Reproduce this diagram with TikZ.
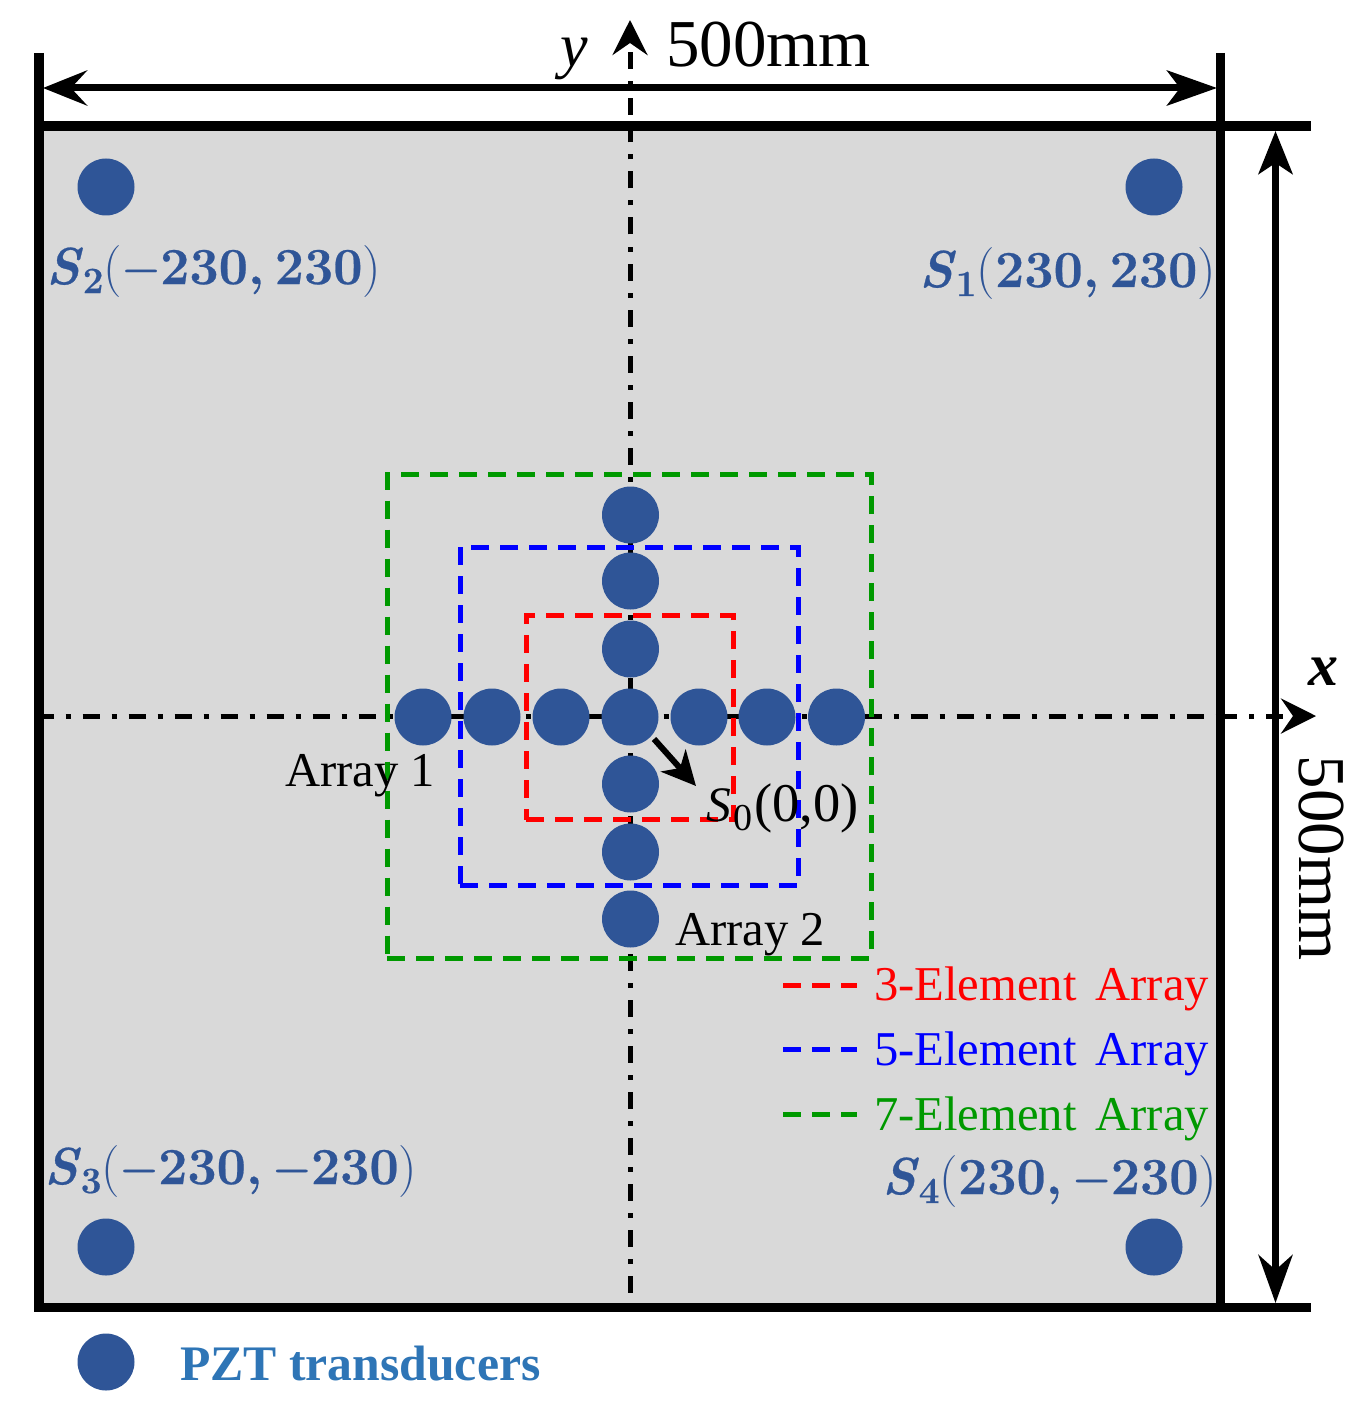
\documentclass[tikz,border=0pt]{standalone}
\usepackage{fontspec}
\setmainfont{Liberation Serif}
\newfontfamily\lmf[BoldFeatures={FakeBold=0.5},BoldItalicFeatures={FakeBold=0.5}]{Latin Modern Roman}
\usetikzlibrary{arrows.meta}
\definecolor{pztblue}{HTML}{2F5597}
\definecolor{legblue}{HTML}{2E75B6}
\definecolor{plate}{HTML}{D9D9D9}
\definecolor{arrgreen}{HTML}{009900}
\newcommand{\sens}[2]{{\lmf\bfseries\textit{S}\raisebox{-9pt}{\fontsize{37}{37}\selectfont #1}\mdseries(\bfseries #2\mdseries)}}
\newcommand{\cm}{,\hspace{10.5pt}}
\newcommand{\mn}{\hspace{0.7pt}\raisebox{2.5pt}{\fontsize{42}{42}\selectfont −}\hspace{0.7pt}}
\tikzset{
  x=1pt,y=-1pt,
  pzt/.style={circle,fill=pztblue,minimum size=57pt,inner sep=0pt},
  borderv/.style={line width=9.5pt,black},
  borderh/.style={line width=9.5pt,black},
  dimline/.style={line width=7pt,black},
  axisline/.style={line width=5pt,black,dash pattern=on 17pt off 12pt on 5pt off 12pt},
  axhead/.style={-{Stealth[length=35pt,width=35pt,inset=12pt]}},
  arrbox/.style={line width=5pt,dash pattern=on 18pt off 11pt},
  txt/.style={inner sep=0pt,anchor=base west,font=\fontsize{48.6}{50}\selectfont},
  legtxt/.style={inner sep=0pt,anchor=base west,font=\fontsize{48.6}{50}\selectfont},
  senslbl/.style={inner sep=0pt,anchor=base west,text=pztblue,font=\fontsize{52}{52}\selectfont},
  dimtxt/.style={inner sep=0pt,font=\fontsize{67}{67}\selectfont},
}
\begin{document}
\begin{tikzpicture}
\useasboundingbox (0,0) rectangle (1368,1415);
\fill[white] (0,0) rectangle (1368,1415);
\fill[plate] (39,127) rectangle (1221,1306);
% frame
\coordinate (tl) at (39,53); \coordinate (bl) at (39,1312);
\coordinate (tr) at (1220.5,53); \coordinate (br) at (1220.5,1306);
\coordinate (topL) at (34,126); \coordinate (topR) at (1311,126);
\coordinate (botL) at (34,1307.5); \coordinate (botR) at (1311,1307.5);
\draw[borderv] (tl) -- (bl);
\draw[borderv] (tr) -- (br);
\draw[borderh] (topL) -- (topR);
\draw[borderh] (botL) -- (botR);
% dims
\coordinate (dl) at (43,88); \coordinate (dr) at (1217,88);
\coordinate (dt) at (1275.5,131); \coordinate (db) at (1275.5,1303);
\draw[dimline,{Stealth[length=44pt,width=35pt,inset=16pt]}-{Stealth[length=50pt,width=35pt,inset=13pt]}] (dl) -- (dr);
\draw[dimline,{Stealth[length=43pt,width=34pt,inset=11pt]}-{Stealth[length=48pt,width=34pt,inset=15pt]}] (dt) -- (db);
% axes
\coordinate (ax0) at (44,716); \coordinate (ax1) at (1221,716);
\coordinate (ax2) at (1220,716); \coordinate (ax3) at (1316,716);
\coordinate (ay0) at (630,1304); \coordinate (ay1) at (630,123);
\coordinate (az0) at (630,115); \coordinate (az1) at (630,20);
\draw[axisline,dash phase=7.5pt] (ax0) -- (ax1);
\draw[axisline,axhead] (ax2) -- (ax3);
\draw[axisline,dash phase=34.5pt] (ay0) -- (ay1);
\draw[axisline,axhead] (az0) -- (az1);
% boxes
\draw[arrbox,red] (526.3,819.5) -- (733,819.5) -- (733,615) -- (526.3,615) -- cycle;
\draw[arrbox,blue] (460.3,885.3) -- (798.5,885.3) -- (798.5,547) -- (460.3,547) -- cycle;
\draw[arrbox,arrgreen] (387.3,958) -- (871.5,958) -- (871.5,474) -- (387.3,474) -- cycle;
% transducers
\node[pzt] (s1) at (1154,187) {};
\node[pzt] (s2) at (106,187) {};
\node[pzt] (s3) at (106,1247) {};
\node[pzt] (s4) at (1154,1247) {};
\node[pzt] (leg) at (106,1362) {};
\node[pzt] (h1) at (423,717) {};
\node[pzt] (h2) at (492,717) {};
\node[pzt] (h3) at (561,717) {};
\node[pzt] (c) at (630,717) {};
\node[pzt] (h5) at (699,717) {};
\node[pzt] (h6) at (767,717) {};
\node[pzt] (h7) at (836.5,717) {};
\node[pzt] (v1) at (630.5,515) {};
\node[pzt] (v2) at (630.5,581) {};
\node[pzt] (v3) at (630.5,649) {};
\node[pzt] (v5) at (630.5,784) {};
\node[pzt] (v6) at (630.5,852) {};
\node[pzt] (v7) at (630.5,919) {};
% pointer
\coordinate (pa) at (654,739); \coordinate (pb) at (696,786);
\draw[line width=6pt,-{Stealth[length=34pt,width=33pt,inset=10pt]}] (pa) -- (pb);
% labels
\node[senslbl] (ls2) at (46,284) {\sens{2}{\mn 230\cm 230}};
\node[senslbl] (ls1) at (919,287) {\sens{1}{230\cm 230}};
\node[senslbl] (ls3) at (44,1184) {\sens{3}{\mn 230\cm \mn 230}};
\node[senslbl] (ls4) at (882,1194) {\sens{4}{230\cm \mn 230}};
\node[txt] (a1) at (285,786) {Array 1};
\node[txt] (a2) at (675,945) {Array 2};
\node[txt,font=\fontsize{49.6}{50}\selectfont] (s0) at (706,821) {\textit{S}\hspace{2pt}\raisebox{-9pt}{\fontsize{38}{38}\selectfont 0}\hspace{2pt}{\fontsize{54.5}{54}\selectfont(0,0)}};
\node[legtxt,text=red] (l3) at (874,1000) {3-Element\hspace{19pt}Array};
\node[legtxt,text=blue] (l5) at (874,1065) {5-Element\hspace{19pt}Array};
\node[legtxt,text=arrgreen] (l7) at (874,1130) {7-Element\hspace{19pt}Array};
\coordinate (k3a) at (783,985); \coordinate (k3b) at (857,985);
\coordinate (k5a) at (783,1049); \coordinate (k5b) at (857,1049);
\coordinate (k7a) at (783,1114); \coordinate (k7b) at (857,1114);
\draw[arrbox,red] (k3a) -- (k3b);
\draw[arrbox,blue] (k5a) -- (k5b);
\draw[arrbox,arrgreen] (k7a) -- (k7b);
\node[inner sep=0pt,anchor=base west,text=legblue,font=\fontsize{49.7}{50}\selectfont\bfseries] (lp) at (180,1380) {PZT transducers};
\node[dimtxt,anchor=base west] (d1) at (666,67) {500mm};
\node[dimtxt,anchor=base,rotate=-90] (d2) at (1299,858) {500mm};
\node[dimtxt,anchor=base west] (ly) at (560,67) {\fontsize{62}{62}\selectfont\textit{y}};
\node[dimtxt,anchor=base west] (lx) at (1308,685) {\fontsize{60}{60}\selectfont\textbf{\textit{x}}};
\end{tikzpicture}
\end{document}
